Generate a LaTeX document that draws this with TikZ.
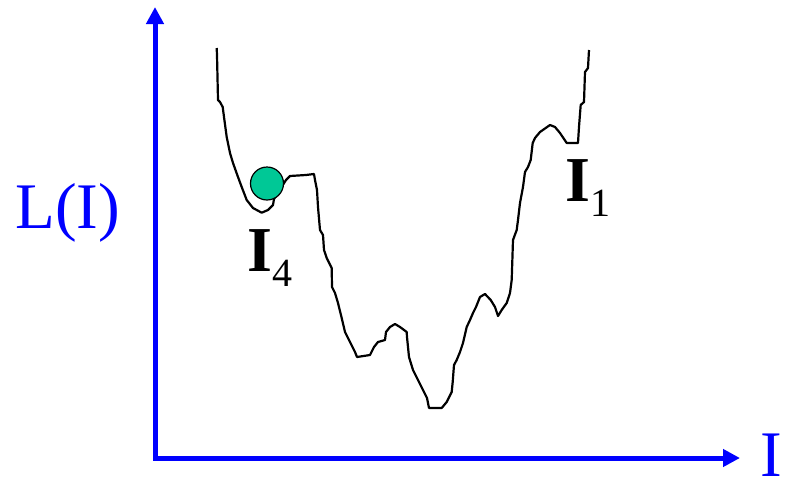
\documentclass[tikz,border=0pt]{standalone}
\usepackage{fontspec}
\setmainfont{Liberation Serif}
\usepackage{xcolor}
\usepackage{tikz}
\usetikzlibrary{arrows.meta}
\definecolor{axisblue}{RGB}{0,0,255}
\definecolor{ballgreen}{RGB}{0,200,150}
\newcommand{\minlabel}[2]{\textbf{#1}\raisebox{-7.5pt}{\fontsize{20}{20}\selectfont #2}}
\tikzset{
  axis/.style={
    draw=axisblue,
    line width=2.5pt,
    line join=miter,
    {Triangle[length=8.5pt,width=8.5pt]}-{Triangle[length=8.5pt,width=8.5pt]}
  },
  axislabel/.style={
    text=axisblue,
    inner sep=0pt,
    anchor=base west,
    font=\fontsize{32.5}{32.5}\selectfont
  },
  minlabelnode/.style={
    inner sep=0pt,
    anchor=base west,
    font=\fontsize{32}{32}\selectfont
  },
  landscape/.style={
    draw=black,
    line width=1.1pt,
    line join=round
  },
  ball/.style={
    circle,
    draw=black,
    line width=0.6pt,
    fill=ballgreen,
    minimum size=16.5pt,
    inner sep=0pt
  }
}

\begin{document}
\begin{tikzpicture}[x=0.5pt, y=-0.5pt]
  \useasboundingbox (0,0) rectangle (789,483);
  \coordinate (O) at (155,458);
  \coordinate (Ytip) at (155,7);
  \coordinate (Xtip) at (740,458);

  % axes
  \draw[axis] (Ytip) -- (O) -- (Xtip);
  \node[axislabel] (ylabel) at (15,228) {L(I)};
  \node[axislabel] (xlabel) at (760,476) {I};

  % loss landscape
  \draw[landscape] plot coordinates {
    (216.7,48) (217,55) (218,100) (220,102) (222.7,107) (224,117)
    (226.7,137) (230,153) (233,163) (238,177) (241.7,187) (246.7,200)
    (253,208) (261.7,212.7) (268,210) (273,205) (274,199) (286,180)
    (290,176) (306,175) (314,174) (315,180) (317,190) (318,207)
    (320,230) (323,235) (324,250) (326.7,258) (331.7,268) (332,287)
    (335,293) (338,303) (341.7,318) (345,332) (350,342) (355,352)
    (357,357) (370,355) (374,347) (378,342) (385,340) (386,332)
    (390,327) (395,324) (400,327) (406.7,332) (407,337) (409,357)
    (413,370) (418,380) (423,390) (427,398) (429,408) (441.7,408)
    (446.7,402) (451.7,392) (452.7,382) (454,365) (456.7,360) (460,352)
    (463,343) (466.7,327) (470,320) (473,313) (476,307) (480,297)
    (485,294) (490.7,300) (495,307) (498,316) (501.7,310) (506.7,303)
    (510,293) (511.7,280) (513,240) (516.7,230) (518,220) (520,203)
    (523,187) (525,172) (528,167) (530.7,160) (532.7,143) (535,138)
    (540,132) (550,125) (555,127) (560,133) (566.7,143) (578,143)
    (579,127) (580.7,105) (584,102) (585,72) (588,68) (589,50)
  };

  \node[ball] (ball) at (267,183.5) {};
  \node[minlabelnode] (I4) at (247,271) {\minlabel{I}{4}};
  \node[minlabelnode] (I1) at (565,201) {\minlabel{I}{1}};
\end{tikzpicture}
\end{document}
